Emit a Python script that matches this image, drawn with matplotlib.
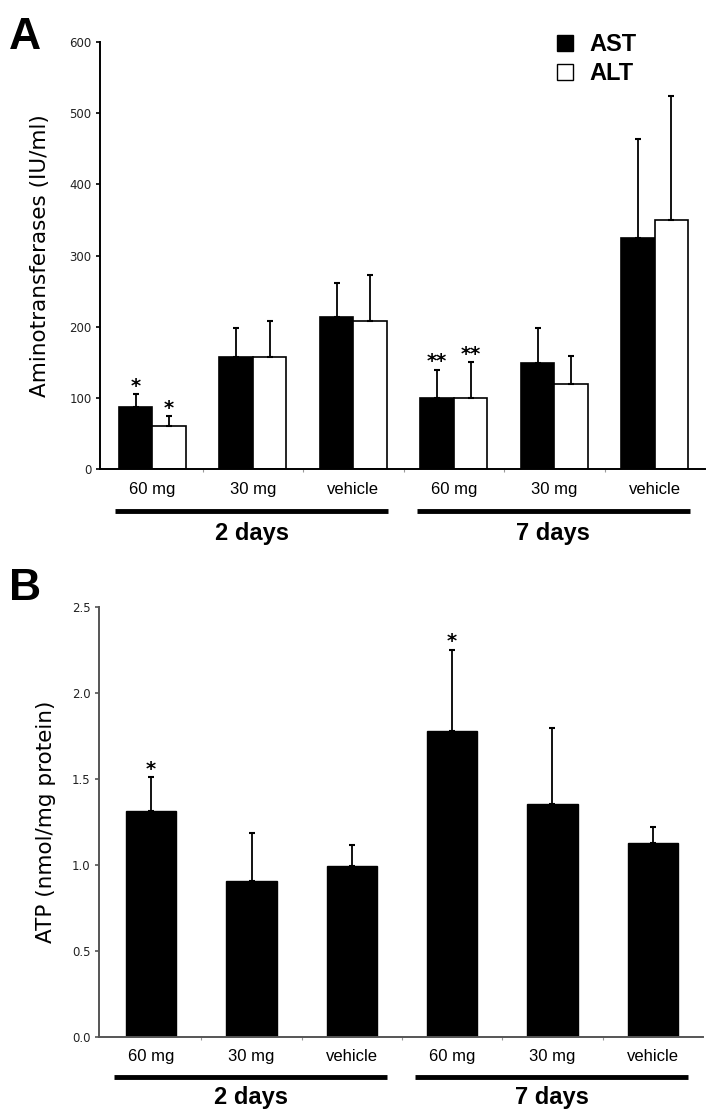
import numpy as np
import matplotlib
matplotlib.use('Agg')
from matplotlib import pyplot as plt
from matplotlib.patches import Patch
import matplotlib.transforms as mtransforms

plt.rcParams['font.family'] = ['Liberation Sans', 'DejaVu Sans']

# data
doses = ['60 mg', '30 mg', 'vehicle', '60 mg', '30 mg', 'vehicle']
periods = ['2 days', '7 days']
ast = [87, 157, 213, 100, 149, 324]
ast_err = [18, 41, 48, 39, 49, 140]
alt = [60, 157, 208, 100, 119, 350]
alt_err = [14, 51, 64, 50, 40, 174]
ast_stars = ['*', '', '', '**', '', '']
alt_stars = ['*', '', '', '**', '', '']

atp = [1.314, 0.907, 0.994, 1.779, 1.355, 1.128]
atp_err = [0.196, 0.279, 0.122, 0.471, 0.442, 0.093]
atp_stars = ['*', '', '', '*', '', '']

x = np.arange(len(doses))

fig = plt.figure(figsize=(7.13, 11.18), dpi=100)
axA = fig.add_axes([0.1403, 0.5805, 0.8485, 0.3819])
axB = fig.add_axes([0.1389, 0.0725, 0.847, 0.3846])


def style_axis(ax, color):
    for s in ['top', 'right']:
        ax.spines[s].set_visible(False)
    ax.spines['left'].set_color(color)
    ax.spines['bottom'].set_color(color)
    ax.spines['left'].set_linewidth(1.4)
    ax.spines['bottom'].set_linewidth(1.4)
    ax.tick_params(axis='y', length=3, width=1.2, color=color, labelsize=8.5, pad=3)
    for lab in ax.get_yticklabels():
        lab.set_family('DejaVu Sans')
        lab.set_color('#222222')
    ax.tick_params(axis='x', which='major', length=0, labelsize=12, pad=9)
    ax.set_xticks(x)
    ax.set_xticklabels(doses)
    ax.set_xticks(x[:-1] + 0.5, minor=True)
    ax.tick_params(axis='x', which='minor', length=2, width=0.8, color='#999999')
    ax.set_xlim(-0.52, 5.5)


def add_groups(ax, yline, ytext):
    trans = mtransforms.blended_transform_factory(ax.transData, ax.transAxes)
    for i, p in enumerate(periods):
        lo = x[3 * i] - 0.37
        hi = x[3 * i + 2] + 0.35
        ax.plot([lo, hi], [yline, yline], color='black', lw=3.5, transform=trans,
                clip_on=False, solid_capstyle='butt')
        ax.text((lo + hi) / 2, ytext, p, transform=trans, ha='center', va='center',
                fontsize=17, fontweight='bold')


def add_stars(ax, xs, tops, stars, offset):
    for xi, t, s in zip(xs, tops, stars):
        if s:
            ax.annotate(s, (xi, t), xytext=(0, offset), textcoords='offset points',
                        ha='center', va='bottom', fontsize=14, fontweight='bold',
                        family='DejaVu Sans')


# panel A
w = 0.333
axA.bar(x - w / 2, ast, w, color='black', edgecolor='black', lw=1.2, label='AST')
axA.bar(x + w / 2, alt, w, color='white', edgecolor='black', lw=1.2, label='ALT')
axA.errorbar(x - w / 2, ast, yerr=[np.zeros(6), ast_err], fmt='none', ecolor='black',
             elinewidth=1.3, capsize=2.5, capthick=1.5)
axA.errorbar(x + w / 2, alt, yerr=[np.zeros(6), alt_err], fmt='none', ecolor='black',
             elinewidth=1.3, capsize=2.5, capthick=1.5)
add_stars(axA, x - w / 2, np.array(ast) + np.array(ast_err), ast_stars, -1)
add_stars(axA, x + w / 2, np.array(alt) + np.array(alt_err), alt_stars, -1)
axA.set_ylim(0, 600)
axA.set_yticks(np.arange(0, 601, 100))
style_axis(axA, 'black')
axA.set_ylabel('Aminotransferases (IU/ml)', fontsize=15.5, family='DejaVu Sans')
axA.yaxis.set_label_coords(-0.082, 0.5)
add_groups(axA, -0.098, -0.150)
handles = [Patch(facecolor='black', edgecolor='black', label='AST'),
           Patch(facecolor='white', edgecolor='black', label='ALT')]
axA.legend(handles=handles, loc='upper left', bbox_to_anchor=(0.755, 1.02),
           frameon=False, handlelength=0.7, handleheight=0.7, handletextpad=0.7,
           labelspacing=0.25, borderpad=0, borderaxespad=0,
           prop={'size': 17, 'weight': 'bold'})

# panel B
axB.bar(x, atp, 0.5, color='black', edgecolor='black', lw=1)
axB.errorbar(x, atp, yerr=[np.zeros(6), atp_err], fmt='none', ecolor='black',
             elinewidth=1.3, capsize=2.5, capthick=1.5)
add_stars(axB, x, np.array(atp) + np.array(atp_err), atp_stars, -1)
axB.set_ylim(0, 2.5)
axB.set_yticks(np.arange(0, 2.51, 0.5))
axB.set_yticklabels(['%.1f' % v for v in np.arange(0, 2.51, 0.5)])
style_axis(axB, '#555555')
axB.set_ylabel('ATP (nmol/mg protein)', fontsize=15.5, family='DejaVu Sans')
axB.yaxis.set_label_coords(-0.072, 0.5)
add_groups(axB, -0.093, -0.140)

fig.text(0.012, 0.985, 'A', fontsize=32, fontweight='bold', va='top')
fig.text(0.012, 0.492, 'B', fontsize=32, fontweight='bold', va='top')

fig.savefig('out.png', dpi=100)
